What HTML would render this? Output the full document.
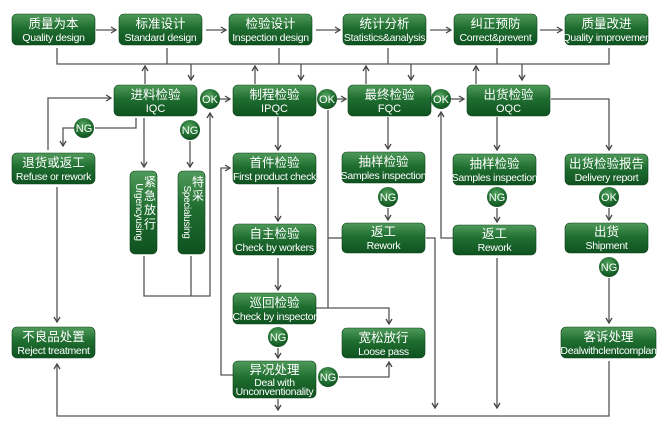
<!DOCTYPE html>
<html><head><meta charset="utf-8"><style>
html,body{margin:0;padding:0;background:#fff;}
svg{display:block;}
.c{font-family:"Liberation Sans","Noto Sans CJK SC",sans-serif;fill:#fff;font-size:12.5px;text-anchor:middle;}
.e{font-family:"Liberation Sans",sans-serif;fill:#fff;font-size:10.5px;text-anchor:middle;letter-spacing:-0.3px;}
.o{font-family:"Liberation Sans",sans-serif;fill:#fff;font-size:11px;text-anchor:middle;}
.l{stroke:#555;stroke-width:1.3;fill:none;}
</style></head><body>
<svg width="662" height="427" viewBox="0 0 662 427" xmlns="http://www.w3.org/2000/svg">
<defs>
<linearGradient id="g" x1="0" y1="0" x2="0" y2="1">
<stop offset="0" stop-color="#4f9a5a"/><stop offset="0.45" stop-color="#1f6e30"/><stop offset="1" stop-color="#0f5220"/>
</linearGradient>
<radialGradient id="r" cx="0.45" cy="0.35" r="0.7">
<stop offset="0" stop-color="#5aa763"/><stop offset="0.6" stop-color="#1f6e30"/><stop offset="1" stop-color="#0e4a1c"/>
</radialGradient>
<marker id="a" markerWidth="8" markerHeight="8" refX="6" refY="4" orient="auto" markerUnits="userSpaceOnUse">
<path d="M1,1 L6,4 L1,7" fill="none" stroke="#444" stroke-width="1.3"/>
</marker>
</defs>

<!-- connectors -->
<g class="l">
<path d="M96,30 H116" marker-end="url(#a)"/>
<path d="M206,30 H226" marker-end="url(#a)"/>
<path d="M316,30 H340" marker-end="url(#a)"/>
<path d="M430,30 H451" marker-end="url(#a)"/>
<path d="M540,30 H562" marker-end="url(#a)"/>
<path d="M57,48 V64 H609 V48"/>
<path d="M167,48 V64 M279,48 V64 M388,48 V64 M497,48 V64"/>
<path d="M145,84 V66" marker-end="url(#a)"/>
<path d="M191,64 V80" marker-end="url(#a)"/>
<path d="M255,84 V66" marker-end="url(#a)"/>
<path d="M301,64 V80" marker-end="url(#a)"/>
<path d="M366,84 V66" marker-end="url(#a)"/>
<path d="M411,64 V80" marker-end="url(#a)"/>
<path d="M476,84 V66" marker-end="url(#a)"/>
<path d="M522,64 V80" marker-end="url(#a)"/>
<!-- IQC area -->
<path d="M48,150 V98 H111" marker-end="url(#a)"/>
<path d="M136,118 V128 H95"/>
<path d="M74,128 H63 V146" marker-end="url(#a)"/>
<path d="M144,118 V167" marker-end="url(#a)"/>
<path d="M190,141 V167" marker-end="url(#a)"/>
<path d="M144,256 V296 H210 V113" marker-end="url(#a)"/>
<path d="M191,256 V296"/>
<path d="M220,99 H230" marker-end="url(#a)"/>
<path d="M57,187 V322" marker-end="url(#a)"/>
<!-- IPQC -->
<path d="M278,117 V150" marker-end="url(#a)"/>
<path d="M278,187 V221" marker-end="url(#a)"/>
<path d="M278,258 V290" marker-end="url(#a)"/>
<path d="M278,348 V358" marker-end="url(#a)"/>
<path d="M233,375 H221 V168 H230" marker-end="url(#a)"/>
<path d="M278,399 V410" marker-end="url(#a)"/>
<path d="M328,110 V308 M316,308 H389 V324" marker-end="url(#a)"/>
<path d="M328,238 H342"/>
<path d="M339,377 H389 V362" marker-end="url(#a)"/>
<path d="M337,99 H346" marker-end="url(#a)"/>
<!-- FQC -->
<path d="M388,117 V149" marker-end="url(#a)"/>
<path d="M388,208 V220" marker-end="url(#a)"/>
<path d="M426,238 H435 V408" marker-end="url(#a)"/>
<path d="M453,238 H441 V112" marker-end="url(#a)"/>
<path d="M451,99 H464" marker-end="url(#a)"/>
<!-- OQC -->
<path d="M497,117 V150" marker-end="url(#a)"/>
<path d="M497,208 V222" marker-end="url(#a)"/>
<path d="M497,258 V408" marker-end="url(#a)"/>
<path d="M551,99 H609 V150" marker-end="url(#a)"/>
<path d="M609,208 V220" marker-end="url(#a)"/>
<path d="M609,278 V323" marker-end="url(#a)"/>
<path d="M609,361 V416 H57 V364" marker-end="url(#a)"/>
</g>

<!-- boxes -->
<g fill="url(#g)" stroke="#0c4318" stroke-width="0.6">
<rect x="12" y="14" width="83" height="31" rx="5"/>
<rect x="119" y="14" width="83" height="31" rx="5"/>
<rect x="229" y="14" width="83" height="31" rx="5"/>
<rect x="343" y="14" width="83" height="31" rx="5"/>
<rect x="454" y="14" width="83" height="31" rx="5"/>
<rect x="565" y="14" width="83" height="31" rx="5"/>
<rect x="114" y="85" width="83" height="31" rx="5"/>
<rect x="233" y="85" width="83" height="31" rx="5"/>
<rect x="348" y="85" width="83" height="31" rx="5"/>
<rect x="467" y="85" width="83" height="31" rx="5"/>
<rect x="12" y="153" width="83" height="31" rx="5"/>
<rect x="233" y="153" width="83" height="31" rx="5"/>
<rect x="342" y="152" width="83" height="31" rx="5"/>
<rect x="453" y="154" width="83" height="31" rx="5"/>
<rect x="565" y="154" width="83" height="31" rx="5"/>
<rect x="130" y="171" width="27" height="83" rx="5"/>
<rect x="178" y="171" width="27" height="83" rx="5"/>
<rect x="233" y="224" width="83" height="31" rx="5"/>
<rect x="342" y="223" width="83" height="30" rx="5"/>
<rect x="453" y="225" width="83" height="30" rx="5"/>
<rect x="565" y="223" width="83" height="30" rx="5"/>
<rect x="233" y="293" width="83" height="31" rx="5"/>
<rect x="12" y="327" width="83" height="31" rx="5"/>
<rect x="342" y="328" width="83" height="30" rx="5"/>
<rect x="561" y="327" width="95" height="31" rx="5"/>
<rect x="233" y="361" width="83" height="37" rx="5"/>
</g>

<!-- circles -->
<g fill="url(#r)">
<circle cx="210" cy="99" r="10"/>
<circle cx="327" cy="99" r="10"/>
<circle cx="441" cy="99" r="10"/>
<circle cx="84" cy="128" r="10"/>
<circle cx="190" cy="130" r="10"/>
<circle cx="388" cy="197" r="10"/>
<circle cx="497" cy="197" r="10"/>
<circle cx="609" cy="197" r="10"/>
<circle cx="609" cy="267" r="10"/>
<circle cx="278" cy="337" r="10"/>
<circle cx="328" cy="377" r="10"/>
</g>
<g class="o">
<text x="210" y="103">OK</text><text x="327" y="103">OK</text><text x="441" y="103">OK</text>
<text x="84" y="132">NG</text><text x="190" y="134">NG</text>
<text x="388" y="201">NG</text><text x="497" y="201">NG</text>
<text x="609" y="201">OK</text><text x="609" y="271">NG</text>
<text x="278" y="341">NG</text><text x="328" y="381">NG</text>
</g>

<!-- labels -->
<g>
<text class="c" x="53.5" y="28">质量为本</text><text class="e" x="53.5" y="41">Quality design</text>
<text class="c" x="160.5" y="28">标准设计</text><text class="e" x="160.5" y="41">Standard design</text>
<text class="c" x="270.5" y="28">检验设计</text><text class="e" x="270.5" y="41">Inspection design</text>
<text class="c" x="384.5" y="28">统计分析</text><text class="e" x="384.5" y="41">Statistics&amp;analysis</text>
<text class="c" x="495.5" y="28">纠正预防</text><text class="e" x="495.5" y="41">Correct&amp;prevent</text>
<text class="c" x="606.5" y="28">质量改进</text><text class="e" x="606.5" y="41">Quality improvemen</text>

<text class="c" x="155.5" y="99">进料检验</text><text class="c" x="155.5" y="112" style="font-size:11px">IQC</text>
<text class="c" x="274.5" y="99">制程检验</text><text class="c" x="274.5" y="112" style="font-size:11px">IPQC</text>
<text class="c" x="389.5" y="99">最终检验</text><text class="c" x="389.5" y="112" style="font-size:11px">FQC</text>
<text class="c" x="508.5" y="99">出货检验</text><text class="c" x="508.5" y="112" style="font-size:11px">OQC</text>

<text class="c" x="53.5" y="167">退货或返工</text><text class="e" x="53.5" y="180">Refuse or rework</text>
<text class="c" x="274.5" y="167">首件检验</text><text class="e" x="274.5" y="180">First product check</text>
<text class="c" x="383.5" y="166">抽样检验</text><text class="e" x="383.5" y="179">Samples inspection</text>
<text class="c" x="494.5" y="168">抽样检验</text><text class="e" x="494.5" y="181">Samples inspection</text>
<text class="c" x="606.5" y="168">出货检验报告</text><text class="e" x="606.5" y="181">Delivery report</text>

<text class="c" x="274.5" y="238">自主检验</text><text class="e" x="274.5" y="251">Check by workers</text>
<text class="c" x="383.5" y="236">返工</text><text class="e" x="383.5" y="249">Rework</text>
<text class="c" x="494.5" y="238">返工</text><text class="e" x="494.5" y="251">Rework</text>
<text class="c" x="606.5" y="236">出货</text><text class="e" x="606.5" y="249">Shipment</text>

<text class="c" x="274.5" y="307">巡回检验</text><text class="e" x="274.5" y="320">Check by inspector</text>
<text class="c" x="53.5" y="341">不良品处置</text><text class="e" x="53.5" y="354">Reject treatment</text>
<text class="c" x="383.5" y="342">宽松放行</text><text class="e" x="383.5" y="355">Loose pass</text>
<text class="c" x="608.5" y="341">客诉处理</text><text class="e" x="608.5" y="354">Dealwithclentcomplan</text>
<text class="c" x="274.5" y="374">异况处理</text><text class="e" x="274.5" y="386">Deal with</text><text class="e" x="274.5" y="395">Unconventionality</text>

<text class="c" x="150" y="186" style="font-size:12px">紧</text>
<text class="c" x="150" y="200" style="font-size:12px">急</text>
<text class="c" x="150" y="214" style="font-size:12px">放</text>
<text class="c" x="150" y="228" style="font-size:12px">行</text>
<text class="e" transform="translate(136,212) rotate(90)" style="font-size:10px">Urgencyusing</text>
<text class="c" x="198" y="186" style="font-size:12px">特</text>
<text class="c" x="198" y="200" style="font-size:12px">采</text>
<text class="e" transform="translate(184,212) rotate(90)" style="font-size:10px">Specialusing</text>
</g>
</svg>
</body></html>
